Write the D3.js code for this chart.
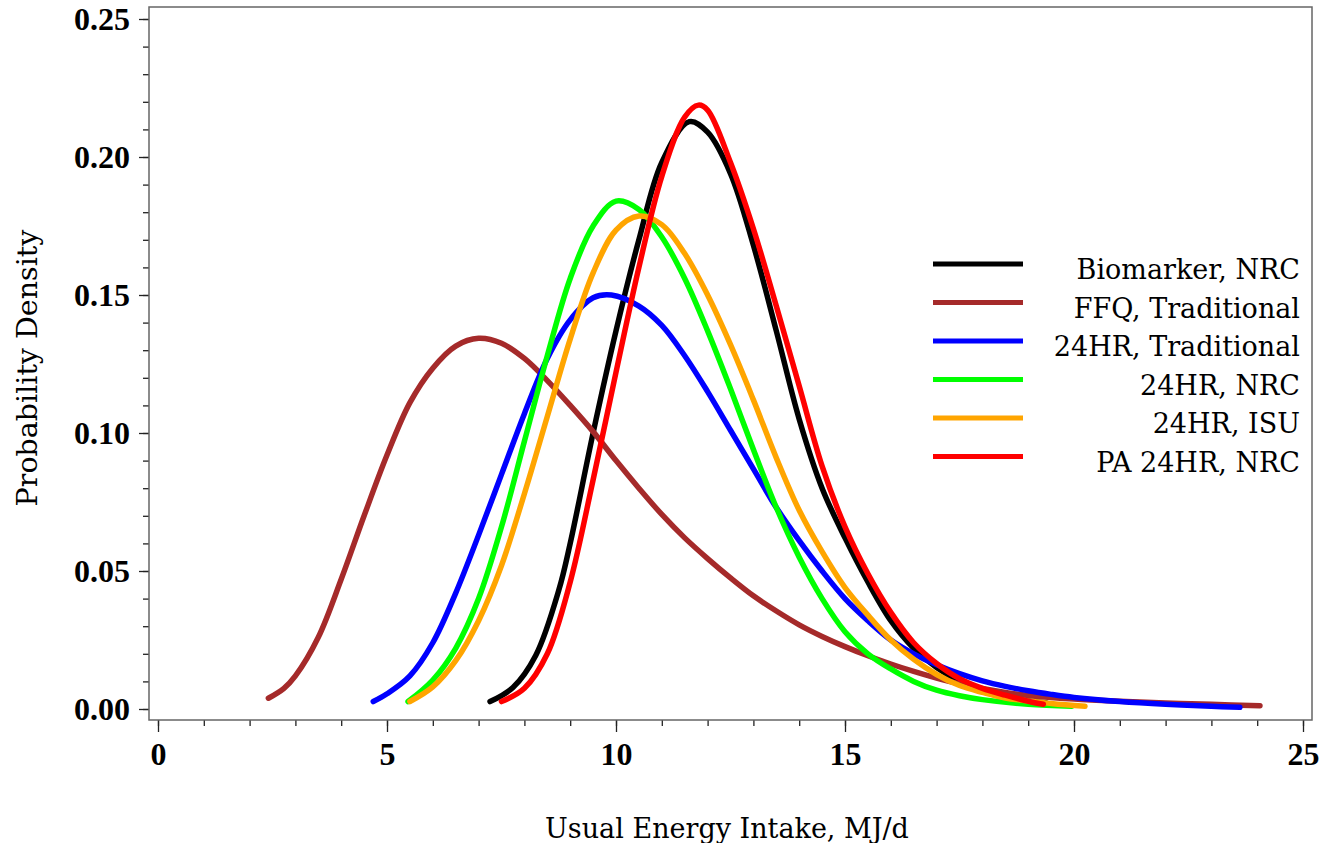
<!DOCTYPE html>
<html>
<head>
<meta charset="utf-8">
<script src="https://cdn.jsdelivr.net/npm/d3@7/dist/d3.min.js"></script>
<style>
	body { margin: 0; background: #fff; }
	svg { display: block; }
</style>
</head>
<body>
<svg width="1322" height="843"></svg>
<script>
// series names, in legend order
var seriesNames = ["Biomarker, NRC", "FFQ, Traditional", "24HR, Traditional", "24HR, NRC", "24HR, ISU", "PA 24HR, NRC"];
var seriesColors = ["#000000", "#a52a2a", "#0000ff", "#00ff00", "#ffa500", "#ff0000"];

// density curves: [MJ/d, density]
var biomarkerNRC = [[7.25,0.0027],[7.75,0.0078],[8.25,0.0195],[8.75,0.043],[9.0,0.060],[9.5,0.100],[10.0,0.137],[10.5,0.170],[11.0,0.198],[11.6,0.2128],[12.0,0.209],[12.5,0.194],[13.0,0.168],[13.5,0.137],[14.0,0.105],[14.5,0.080],[15.0,0.062],[15.5,0.046],[16.0,0.032],[16.5,0.022],[17.0,0.015],[17.5,0.010],[18.0,0.0068],[18.5,0.0046],[19.0,0.003],[19.4,0.0022]];
var ffqTraditional = [[2.41,0.0039],[2.75,0.0075],[3.0,0.012],[3.5,0.026],[4.0,0.047],[4.5,0.070],[5.0,0.092],[5.5,0.111],[6.0,0.1235],[6.5,0.1315],[7.0,0.1343],[7.5,0.1325],[8.0,0.127],[8.5,0.119],[9.0,0.110],[9.5,0.1005],[10.0,0.090],[10.5,0.080],[11.0,0.0705],[11.5,0.062],[12.0,0.0545],[12.5,0.0475],[13.0,0.041],[13.5,0.0355],[14.0,0.0305],[14.5,0.0263],[15.0,0.0226],[15.5,0.0193],[16.0,0.0163],[16.5,0.0136],[17.0,0.0112],[17.5,0.0091],[18.0,0.0074],[18.5,0.006],[19.0,0.0049],[20.0,0.0036],[21.0,0.0028],[22.0,0.0022],[23.0,0.0017],[24.06,0.0012]];
var hr24Traditional = [[4.7,0.0027],[5.0,0.0055],[5.5,0.012],[6.0,0.024],[6.5,0.042],[7.0,0.063],[7.5,0.085],[8.0,0.107],[8.5,0.127],[9.0,0.141],[9.5,0.149],[9.9,0.150],[10.5,0.146],[11.0,0.139],[11.5,0.128],[12.0,0.115],[12.5,0.101],[13.0,0.087],[13.5,0.073],[14.0,0.061],[14.5,0.050],[15.0,0.040],[15.5,0.032],[16.0,0.025],[16.5,0.020],[17.0,0.016],[17.5,0.0128],[18.0,0.0102],[18.5,0.0082],[19.0,0.0066],[19.5,0.0053],[20.0,0.0042],[21.0,0.0027],[22.0,0.0017],[23.0,0.001],[23.62,0.0006]];
var hr24NRC = [[5.46,0.0027],[6.0,0.0105],[6.5,0.022],[7.0,0.040],[7.5,0.066],[8.0,0.097],[8.5,0.128],[9.0,0.156],[9.5,0.175],[10.0,0.184],[10.5,0.181],[11.0,0.171],[11.5,0.156],[12.0,0.137],[12.5,0.116],[13.0,0.094],[13.5,0.073],[14.0,0.055],[14.5,0.040],[15.0,0.028],[15.5,0.020],[16.0,0.0145],[16.5,0.010],[17.0,0.0068],[17.5,0.0048],[18.0,0.0034],[19.0,0.0017],[19.95,0.001]];
var hr24ISU = [[5.5,0.0027],[6.0,0.008],[6.5,0.0175],[7.0,0.032],[7.5,0.052],[8.0,0.078],[8.5,0.106],[9.0,0.134],[9.5,0.158],[10.0,0.1735],[10.5,0.1786],[11.0,0.1755],[11.5,0.165],[12.0,0.150],[12.5,0.132],[13.0,0.112],[13.5,0.091],[14.0,0.072],[14.5,0.057],[15.0,0.044],[15.5,0.034],[16.0,0.025],[16.5,0.018],[17.0,0.0125],[17.5,0.0085],[18.0,0.006],[18.5,0.004],[19.5,0.002],[20.24,0.001]];
var pa24NRC = [[7.5,0.0027],[8.0,0.0075],[8.5,0.020],[9.0,0.046],[9.5,0.083],[10.0,0.122],[10.5,0.160],[11.0,0.193],[11.5,0.2145],[11.8,0.2188],[12.0,0.217],[12.5,0.198],[13.0,0.174],[13.5,0.146],[14.0,0.117],[14.5,0.088],[15.0,0.066],[15.5,0.049],[16.0,0.035],[16.5,0.024],[17.0,0.0165],[17.5,0.011],[18.0,0.0075],[18.5,0.005],[19.0,0.0028],[19.33,0.0017]];

var seriesData = [biomarkerNRC, ffqTraditional, hr24Traditional, hr24NRC, hr24ISU, pa24NRC];

// axis ticks
var xTicks = [0, 5, 10, 15, 20, 25];
var xMinorTicks = d3.range(0, 25.01, 1);
var yTicks = [0, 0.05, 0.10, 0.15, 0.20, 0.25];
var yMinorTicks = d3.range(0, 0.2501, 0.01);

var svg = d3.select("svg");

// frame of the plot area
var frame = { left: 149, top: 7, right: 1312, bottom: 720 };

var x = d3.scaleLinear().domain([0, 25]).range([158, 1303]);
var y = d3.scaleLinear().domain([0, 0.25]).range([709, 19]);

var tickFont = "'Liberation Serif', serif";
var textFont = "'DejaVu Serif', serif";

// x axis, major + minor
var xAxis = svg.append("g").attr("transform", "translate(0," + frame.bottom + ")");
xAxis.call(d3.axisBottom(x).tickValues(xMinorTicks).tickSize(6).tickSizeOuter(0).tickFormat(""));
xAxis.append("g").call(d3.axisBottom(x).tickValues(xTicks).tickSize(12).tickSizeOuter(0).tickPadding(10).tickFormat(d3.format("d")));
xAxis.selectAll(".domain").remove();
xAxis.selectAll("text")
	.attr("font-family", tickFont).attr("font-weight", "bold").attr("font-size", 32).attr("fill", "#000");
xAxis.selectAll("line").attr("stroke", "#222").attr("stroke-width", 1.3);

// y axis, major + minor
var yAxis = svg.append("g").attr("transform", "translate(" + frame.left + ",0)");
yAxis.call(d3.axisLeft(y).tickValues(yMinorTicks).tickSize(6).tickSizeOuter(0).tickFormat(""));
yAxis.append("g").call(d3.axisLeft(y).tickValues(yTicks).tickSize(10).tickSizeOuter(0).tickPadding(9).tickFormat(d3.format(".2f")));
yAxis.selectAll(".domain").remove();
yAxis.selectAll("text")
	.attr("font-family", tickFont).attr("font-weight", "bold").attr("font-size", 32).attr("fill", "#000");
yAxis.selectAll("line").attr("stroke", "#222").attr("stroke-width", 1.3);

// frame
svg.append("rect")
	.attr("x", frame.left).attr("y", frame.top)
	.attr("width", frame.right - frame.left).attr("height", frame.bottom - frame.top)
	.attr("fill", "none").attr("stroke", "#666").attr("stroke-width", 1.5);

// curves
var line = d3.line()
	.x(function(d) { return x(d[0]); })
	.y(function(d) { return y(d[1]); })
	.curve(d3.curveCatmullRom.alpha(0.5));

svg.append("g").attr("class", "curves")
	.selectAll("path").data(seriesData).enter().append("path")
	.attr("d", line)
	.attr("fill", "none")
	.attr("stroke", function(d, i) { return seriesColors[i]; })
	.attr("stroke-width", 5.5)
	.attr("stroke-linejoin", "round")
	.attr("stroke-linecap", "round");

// legend
var legend = svg.append("g").attr("class", "legend")
	.selectAll("g").data(seriesNames).enter().append("g")
	.attr("transform", function(d, i) { return "translate(0," + (264 + i * 38.5) + ")"; });

legend.append("line")
	.attr("x1", 933).attr("x2", 1023)
	.attr("stroke", function(d, i) { return seriesColors[i]; })
	.attr("stroke-width", 5);

legend.append("text")
	.attr("x", 1300).attr("y", 15)
	.attr("text-anchor", "end")
	.attr("font-family", textFont).attr("font-size", 27)
	.text(function(d) { return d; });

// axis titles
svg.append("text")
	.attr("x", 727).attr("y", 838)
	.attr("text-anchor", "middle")
	.attr("font-family", textFont).attr("font-size", 27)
	.text("Usual Energy Intake, MJ/d");

svg.append("text")
	.attr("transform", "translate(37,368) rotate(-90)")
	.attr("text-anchor", "middle")
	.attr("font-family", textFont).attr("font-size", 28.5)
	.text("Probability Density");
</script>
</body>
</html>
